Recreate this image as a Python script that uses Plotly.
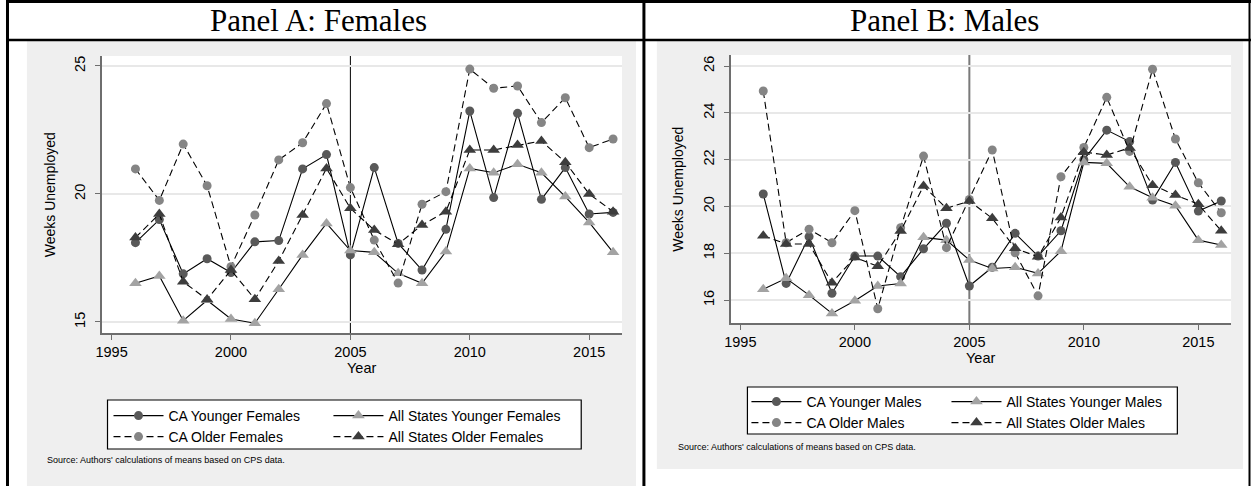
import plotly.graph_objects as go

W, H = 1251, 486

# ---------------- data ----------------
years = list(range(1996, 2017))
policy_year = 2005

ca_young_f = [18.1, 19.0, 16.88, 17.47, 16.93, 18.13, 18.18, 20.98, 21.54, 17.62, 21.03,
              18.07, 17.03, 18.62, 23.24, 19.86, 23.15, 19.79, 21.03, 19.22, 19.28]
all_young_f = [16.51, 16.8, 15.05, 15.85, 15.12, 14.95, 16.28, 17.62, 18.85, 17.79, 17.72,
               16.9, 16.51, 17.75, 21.0, 20.83, 21.16, 20.83, 19.9, 18.89, 17.72]
ca_old_f = [20.98, 19.75, 21.95, 20.32, 17.16, 19.18, 21.33, 22.0, 23.53, 20.25, 18.2,
            16.52, 19.6, 20.09, 24.88, 24.13, 24.22, 22.79, 23.76, 21.81, 22.15]
all_old_f = [18.3, 19.22, 16.57, 15.88, 17.03, 15.89, 17.38, 19.18, 21.0, 19.44, 18.59,
             18.04, 18.79, 19.31, 21.72, 21.72, 21.91, 22.07, 21.24, 20.0, 19.31]

ca_young_m = [20.53, 16.71, 18.71, 16.29, 17.88, 17.88, 17.0, 18.19, 19.28, 16.6, 17.4,
              18.85, 17.88, 18.96, 22.0, 23.26, 22.77, 20.27, 21.88, 19.8, 20.23]
all_young_m = [16.46, 16.93, 16.21, 15.43, 15.97, 16.6, 16.71, 18.68, 18.56, 17.71, 17.35,
               17.4, 17.14, 18.09, 21.88, 21.84, 20.84, 20.37, 20.03, 18.56, 18.35]
ca_old_m = [24.93, 18.45, 19.03, 18.45, 19.82, 15.63, 19.09, 22.15, 18.24, 20.3, 22.41,
            18.02, 16.18, 21.27, 22.52, 24.66, 22.35, 25.86, 22.88, 21.01, 19.73]
all_old_m = [18.75, 18.4, 18.39, 16.74, 17.82, 17.44, 18.95, 20.87, 19.92, 20.23, 19.49,
             18.21, 17.85, 19.53, 22.32, 22.2, 22.5, 20.91, 20.49, 20.09, 18.96]

female_ticks = [15, 20, 25]
male_ticks = [16, 18, 20, 22, 24, 26]
year_ticks = [1995, 2000, 2005, 2010, 2015]

# ---------------- helpers ----------------
def px_x(p):
    return p / W


def px_y(p):
    return 1 - p / H


SANS = "Liberation Sans"
SERIF = "Liberation Serif"
DASH = "7px,4px"

styles = {
    "ca_young": dict(symbol="circle", color="#595959", size=9, dash="solid"),
    "all_young": dict(symbol="triangle-up", color="#a3a3a3", size=11, dash="solid"),
    "ca_old": dict(symbol="circle", color="#858585", size=9, dash=DASH),
    "all_old": dict(symbol="triangle-up", color="#3d3d3d", size=11, dash=DASH),
}


def series(x, y, name, key, xa, ya, legend):
    s = styles[key]
    return go.Scatter(
        x=x, y=y, name=name, mode="lines+markers",
        xaxis=xa, yaxis=ya, legend=legend,
        line=dict(color="black", width=1.1, dash=s["dash"]),
        marker=dict(symbol=s["symbol"], color=s["color"], size=s["size"],
                    line=dict(width=0)),
    )


fig = go.Figure()

# Panel A (females) - each legend entry gets its own legend so the 2x2 key can be laid out
fig.add_trace(series(years, ca_young_f, "CA Younger Females", "ca_young", "x", "y", "legend"))
fig.add_trace(series(years, all_young_f, "All States Younger Females", "all_young", "x", "y", "legend2"))
fig.add_trace(series(years, ca_old_f, "CA Older Females", "ca_old", "x", "y", "legend3"))
fig.add_trace(series(years, all_old_f, "All States Older Females", "all_old", "x", "y", "legend4"))

# Panel B (males)
fig.add_trace(series(years, ca_young_m, "CA Younger Males", "ca_young", "x2", "y2", "legend5"))
fig.add_trace(series(years, all_young_m, "All States Younger Males", "all_young", "x2", "y2", "legend6"))
fig.add_trace(series(years, ca_old_m, "CA Older Males", "ca_old", "x2", "y2", "legend7"))
fig.add_trace(series(years, all_old_m, "All States Older Males", "all_old", "x2", "y2", "legend8"))

# ---------------- axes ----------------
axis_common = dict(
    showline=True, linecolor="#6e6e6e", linewidth=1.5,
    ticks="outside", ticklen=5, tickcolor="#6e6e6e", tickwidth=1.3,
    tickfont=dict(family=SANS, size=14.5, color="black"),
    zeroline=False,
)

# plot areas in pixels: (left, top, right, bottom)
A_box = (96, 56, 619, 333)
B_box = (728, 55, 1231, 323)

fig.update_layout(
    xaxis=dict(domain=[px_x(A_box[0]), px_x(A_box[2])], range=[1994.58, 2016.375],
               tickvals=year_ticks, showgrid=False, anchor="y", **axis_common),
    yaxis=dict(domain=[px_y(A_box[3]), px_y(A_box[1])], range=[14.57, 25.39],
               tickvals=female_ticks, tickangle=-90, showgrid=True, ticklabelstandoff=4,
               gridcolor="#e8e8e8", gridwidth=1.5, anchor="x", **axis_common),
    xaxis2=dict(domain=[px_x(B_box[0]), px_x(B_box[2])], range=[1994.57, 2016.43],
                tickvals=year_ticks, showgrid=False, anchor="y2", **axis_common),
    yaxis2=dict(domain=[px_y(B_box[3]), px_y(B_box[1])], range=[15.02, 26.47],
                tickvals=male_ticks, tickangle=-90, showgrid=True, ticklabelstandoff=4,
                gridcolor="#e8e8e8", gridwidth=1.5, anchor="x2", **axis_common),
)

# ---------------- legends ----------------
LEGEND_TEXT_OFFSET = 65  # distance from legend origin to its label


def legend_cfg(text_px, row_px):
    return dict(
        orientation="h", x=px_x(text_px - LEGEND_TEXT_OFFSET), xanchor="left",
        y=px_y(row_px), yanchor="middle",
        bgcolor="rgba(0,0,0,0)", borderwidth=0,
        font=dict(family=SANS, size=14, color="black"),
        itemwidth=50, itemclick=False, itemdoubleclick=False,
    )


fig.update_layout(
    showlegend=True,
    legend=legend_cfg(168, 416),
    legend2=legend_cfg(389, 416),
    legend3=legend_cfg(168, 437),
    legend4=legend_cfg(389, 437),
    legend5=legend_cfg(809, 402),
    legend6=legend_cfg(1010, 402),
    legend7=legend_cfg(809, 423),
    legend8=legend_cfg(1010, 423),
)

# ---------------- backgrounds, frames, table lines ----------------
shapes = []


def rect(x0, y0, x1, y1, fill, line_color=None, lw=0, layer="below"):
    shapes.append(dict(
        type="rect", xref="paper", yref="paper",
        x0=px_x(x0), x1=px_x(x1), y0=px_y(y1), y1=px_y(y0),
        fillcolor=fill, line=dict(color=line_color or fill, width=lw), layer=layer,
    ))


def hline(x0, x1, y, color="black", lw=2):
    shapes.append(dict(type="line", xref="paper", yref="paper",
                       x0=px_x(x0), x1=px_x(x1), y0=px_y(y), y1=px_y(y),
                       line=dict(color=color, width=lw), layer="above"))


def vline(x, y0, y1, color="black", lw=2):
    shapes.append(dict(type="line", xref="paper", yref="paper",
                       x0=px_x(x), x1=px_x(x), y0=px_y(y0), y1=px_y(y1),
                       line=dict(color=color, width=lw), layer="above"))


# graph regions (light gray) and plot regions (white)
rect(21, 41, 633, 486, "#efefef")
rect(654, 41, 1243, 469, "#efefef")
rect(*A_box, "white")
rect(*B_box, "white")

# legend frames
rect(102, 400, 578, 449, "white", "black", 1.2)
rect(745, 387, 1177, 434, "white", "black", 1.2)

# table rules
hline(0, W, 1.5, lw=3)
hline(0, W, 40, lw=2.5)
vline(1.5, 0, H, lw=3)
vline(641, 0, H, lw=3)
vline(1249.5, 0, H, lw=2)

# reference line at the policy year
shapes.append(dict(type="line", xref="x", yref="y domain", x0=policy_year, x1=policy_year,
                   y0=0, y1=1, line=dict(color="black", width=1), layer="below"))
shapes.append(dict(type="line", xref="x2", yref="y2 domain", x0=policy_year, x1=policy_year,
                   y0=0, y1=1, line=dict(color="#7a7a7a", width=2), layer="below"))

fig.update_layout(shapes=shapes)

# ---------------- text ----------------
ann = []


def text(x, y, s, size, family=SANS, angle=0, xanchor="center", color="black"):
    ann.append(dict(x=px_x(x), y=px_y(y), xref="paper", yref="paper", text=s,
                    showarrow=False, xanchor=xanchor, yanchor="middle", textangle=angle,
                    font=dict(family=family, size=size, color=color)))


text(314, 20, "Panel A: Females", 31, family=SERIF)
text(943, 20, "Panel B: Males", 31, family=SERIF)

text(45, (A_box[1] + A_box[3]) / 2, "Weeks Unemployed", 14, angle=-90)
text(675, (B_box[1] + B_box[3]) / 2, "Weeks Unemployed", 14, angle=-90)
text((A_box[0] + A_box[2]) / 2, 368, "Year", 14.5)
text((B_box[0] + B_box[2]) / 2, 358, "Year", 14.5)

text(39, 460, "Source: Authors' calculations of means based on CPS data.", 9, xanchor="left")
text(673, 447, "Source: Authors' calculations of means based on CPS data.", 9, xanchor="left")

fig.update_layout(
    annotations=ann,
    width=W, height=H,
    margin=dict(l=0, r=0, t=0, b=0),
    paper_bgcolor="white", plot_bgcolor="rgba(0,0,0,0)",
)

fig.write_html("out.html", config={"displayModeBar": False})
